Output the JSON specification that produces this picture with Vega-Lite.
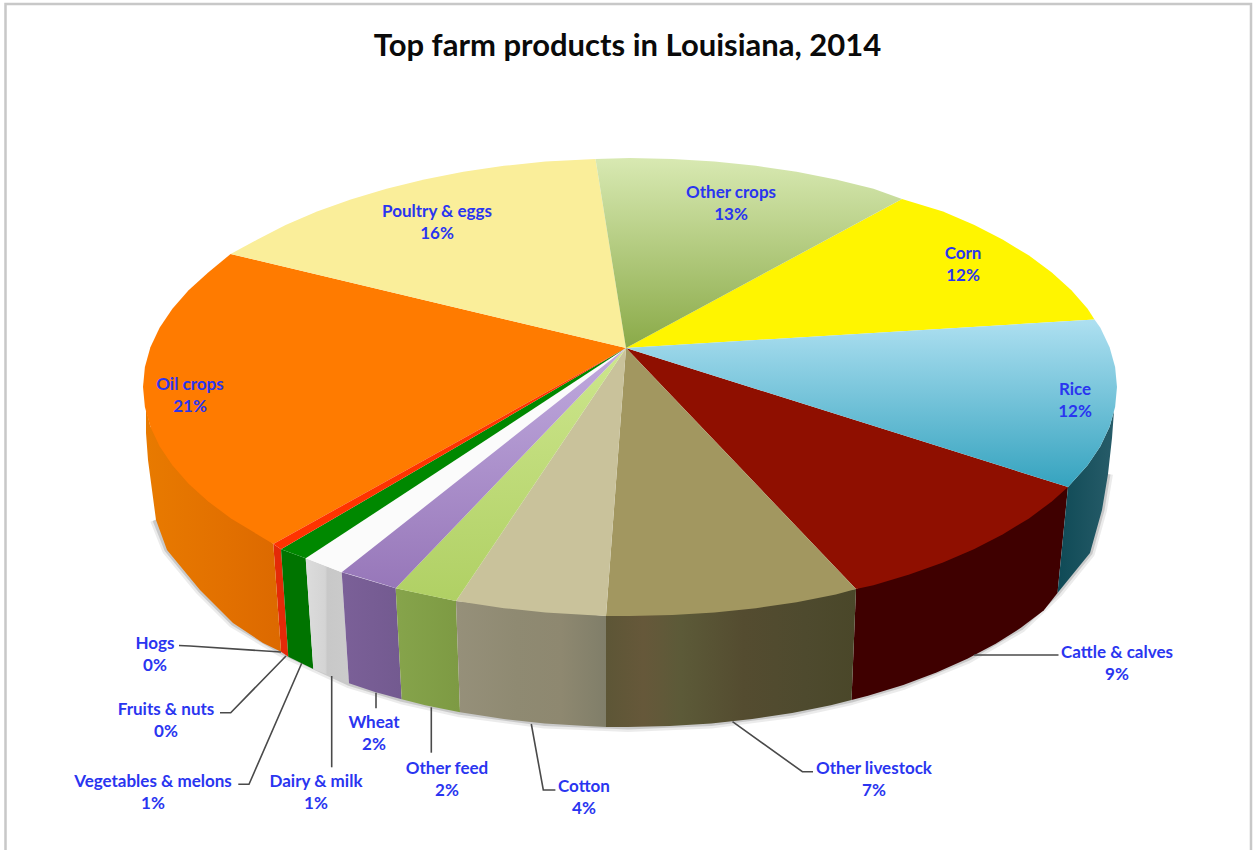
{
  "$schema": "https://vega.github.io/schema/vega-lite/v6.json",
  "description": "Top farm products in Louisiana, 2014: tilted pie drawn from outlines measured relative to the pie's apex",
  "autosize": "none",
  "padding": 0,
  "width": 1253,
  "height": 850,
  "background": "#ffffff",
  "view": {"stroke": null},
  "title": {
    "text": "Top farm products in Louisiana, 2014",
    "anchor": "middle", "frame": "group", "offset": 0, "dy": 64, "dx": 1,
    "font": "Lato", "fontSize": 31, "fontWeight": "bold", "color": "#0a0a0a"
  },
  "datasets": {
    "frame": [
      {"step": 1, "x": -620.5, "y": -502},
      {"step": 2, "x": -620.5, "y": 344},
      {"step": 3, "x": 625, "y": 344},
      {"step": 4, "x": 625, "y": -502}
    ],
    "base": [
      {"step": 2, "x": 482, "y": -126},
      {"step": 3, "x": 476, "y": -162},
      {"step": 4, "x": 464, "y": -205},
      {"step": 5, "x": 431.5, "y": -245},
      {"step": 6, "x": 395.2, "y": -279.6},
      {"step": 7, "x": 341.4, "y": -310.8},
      {"step": 8, "x": 277.3, "y": -336.9},
      {"step": 9, "x": 225.5, "y": -352},
      {"step": 10, "x": 166.2, "y": -365},
      {"step": 11, "x": 85.3, "y": -375.5},
      {"step": 12, "x": 2, "y": -379},
      {"step": 13, "x": -81.3, "y": -375.5},
      {"step": 14, "x": -166, "y": -364.3},
      {"step": 15, "x": -224.3, "y": -351.3},
      {"step": 16, "x": -277, "y": -335.3},
      {"step": 17, "x": -345, "y": -303.7},
      {"step": 18, "x": -393, "y": -275},
      {"step": 19, "x": -426, "y": -242},
      {"step": 20, "x": -459, "y": -202},
      {"step": 21, "x": -471, "y": -172}
    ],
    "sides": [
      {"slice": "Rice", "step": 1, "x": 442, "y": -139},
      {"slice": "Rice", "step": 2, "x": 461.6, "y": -117.3},
      {"slice": "Rice", "step": 3, "x": 474.4, "y": -98.3},
      {"slice": "Rice", "step": 4, "x": 483.6, "y": -78.8},
      {"slice": "Rice", "step": 5, "x": 488, "y": -63},
      {"slice": "Rice", "step": 6, "x": 486, "y": -90},
      {"slice": "Rice", "step": 7, "x": 482, "y": -126},
      {"slice": "Rice", "step": 8, "x": 476, "y": -162},
      {"slice": "Rice", "step": 9, "x": 464, "y": -205},
      {"slice": "Rice", "step": 10, "x": 431.5, "y": -245},

      {"slice": "Cattle & calves", "step": 1, "x": 442, "y": -139},
      {"slice": "Cattle & calves", "step": 2, "x": 230, "y": -241},
      {"slice": "Cattle & calves", "step": 3, "x": 225.5, "y": -352},
      {"slice": "Cattle & calves", "step": 4, "x": 242, "y": -347.8},
      {"slice": "Cattle & calves", "step": 5, "x": 277.3, "y": -336.9},
      {"slice": "Cattle & calves", "step": 6, "x": 310.5, "y": -324.5},
      {"slice": "Cattle & calves", "step": 7, "x": 341.4, "y": -310.8},
      {"slice": "Cattle & calves", "step": 8, "x": 369.7, "y": -295.8},
      {"slice": "Cattle & calves", "step": 9, "x": 395.2, "y": -279.6},
      {"slice": "Cattle & calves", "step": 10, "x": 417.7, "y": -262.5},
      {"slice": "Cattle & calves", "step": 11, "x": 431.5, "y": -245},

      {"slice": "Other livestock", "step": 1, "x": 230, "y": -241},
      {"slice": "Other livestock", "step": 2, "x": -20, "y": -268},
      {"slice": "Other livestock", "step": 3, "x": -20, "y": -379},
      {"slice": "Other livestock", "step": 4, "x": 2, "y": -379},
      {"slice": "Other livestock", "step": 5, "x": 43.9, "y": -378.1},
      {"slice": "Other livestock", "step": 6, "x": 85.3, "y": -375.5},
      {"slice": "Other livestock", "step": 7, "x": 126.2, "y": -371},
      {"slice": "Other livestock", "step": 8, "x": 166.2, "y": -365},
      {"slice": "Other livestock", "step": 9, "x": 204.8, "y": -357.2},
      {"slice": "Other livestock", "step": 10, "x": 225.5, "y": -352},

      {"slice": "Cotton", "step": 1, "x": -20, "y": -268},
      {"slice": "Cotton", "step": 2, "x": -170, "y": -253},
      {"slice": "Cotton", "step": 3, "x": -166, "y": -364.3},
      {"slice": "Cotton", "step": 4, "x": -122.2, "y": -371},
      {"slice": "Cotton", "step": 5, "x": -81.3, "y": -375.5},
      {"slice": "Cotton", "step": 6, "x": -39.9, "y": -378.1},
      {"slice": "Cotton", "step": 7, "x": -20, "y": -379},

      {"slice": "Other feed", "step": 1, "x": -170, "y": -253},
      {"slice": "Other feed", "step": 2, "x": -230.3, "y": -240.3},
      {"slice": "Other feed", "step": 3, "x": -224.3, "y": -351.3},
      {"slice": "Other feed", "step": 4, "x": -200.8, "y": -357.2},
      {"slice": "Other feed", "step": 5, "x": -166, "y": -364.3},

      {"slice": "Wheat", "step": 1, "x": -230.3, "y": -240.3},
      {"slice": "Wheat", "step": 2, "x": -284.3, "y": -224.3},
      {"slice": "Wheat", "step": 3, "x": -277, "y": -335.3},
      {"slice": "Wheat", "step": 4, "x": -251, "y": -344},
      {"slice": "Wheat", "step": 5, "x": -224.3, "y": -351.3},

      {"slice": "Dairy & milk", "step": 1, "x": -284.3, "y": -224.3},
      {"slice": "Dairy & milk", "step": 2, "x": -320.3, "y": -210.3},
      {"slice": "Dairy & milk", "step": 3, "x": -312.7, "y": -321},
      {"slice": "Dairy & milk", "step": 4, "x": -277, "y": -335.3},

      {"slice": "Vegetables & melons", "step": 1, "x": -320.3, "y": -210.3},
      {"slice": "Vegetables & melons", "step": 2, "x": -345, "y": -201.3},
      {"slice": "Vegetables & melons", "step": 3, "x": -337.7, "y": -308.7},
      {"slice": "Vegetables & melons", "step": 4, "x": -312.7, "y": -321},

      {"slice": "Hogs", "step": 1, "x": -345, "y": -201.3},
      {"slice": "Hogs", "step": 2, "x": -352.7, "y": -196},
      {"slice": "Hogs", "step": 3, "x": -345, "y": -303.7},
      {"slice": "Hogs", "step": 4, "x": -337.7, "y": -308.7},

      {"slice": "Oil crops", "step": 1, "x": -352.7, "y": -196},
      {"slice": "Oil crops", "step": 2, "x": -475.6, "y": -78.8},
      {"slice": "Oil crops", "step": 3, "x": -480, "y": -60},
      {"slice": "Oil crops", "step": 4, "x": -480, "y": -85},
      {"slice": "Oil crops", "step": 5, "x": -478, "y": -112},
      {"slice": "Oil crops", "step": 6, "x": -470, "y": -172},
      {"slice": "Oil crops", "step": 7, "x": -459, "y": -202},
      {"slice": "Oil crops", "step": 8, "x": -426, "y": -242},
      {"slice": "Oil crops", "step": 9, "x": -393, "y": -275},
      {"slice": "Oil crops", "step": 10, "x": -363, "y": -295},
      {"slice": "Oil crops", "step": 11, "x": -345, "y": -303.7}
    ],
    "faces": [
      {"slice": "Rice", "step": 1, "x": 0, "y": 0},
      {"slice": "Rice", "step": 2, "x": 468.5, "y": 28.5},
      {"slice": "Rice", "step": 3, "x": 474.4, "y": 20.3},
      {"slice": "Rice", "step": 4, "x": 483.6, "y": 0.8},
      {"slice": "Rice", "step": 5, "x": 489.1, "y": -19},
      {"slice": "Rice", "step": 6, "x": 491, "y": -39},
      {"slice": "Rice", "step": 7, "x": 489.1, "y": -59},
      {"slice": "Rice", "step": 8, "x": 483.6, "y": -78.8},
      {"slice": "Rice", "step": 9, "x": 474.4, "y": -98.3},
      {"slice": "Rice", "step": 10, "x": 461.6, "y": -117.3},
      {"slice": "Rice", "step": 11, "x": 442, "y": -139},

      {"slice": "Cattle & calves", "step": 1, "x": 0, "y": 0},
      {"slice": "Cattle & calves", "step": 2, "x": 442, "y": -139},
      {"slice": "Cattle & calves", "step": 3, "x": 425.8, "y": -153.5},
      {"slice": "Cattle & calves", "step": 4, "x": 403, "y": -170.4},
      {"slice": "Cattle & calves", "step": 5, "x": 377, "y": -186.2},
      {"slice": "Cattle & calves", "step": 6, "x": 348.4, "y": -200.9},
      {"slice": "Cattle & calves", "step": 7, "x": 317, "y": -214.4},
      {"slice": "Cattle & calves", "step": 8, "x": 283.3, "y": -226.6},
      {"slice": "Cattle & calves", "step": 9, "x": 247.5, "y": -237.3},
      {"slice": "Cattle & calves", "step": 10, "x": 230, "y": -241},

      {"slice": "Other livestock", "step": 1, "x": 0, "y": 0},
      {"slice": "Other livestock", "step": 2, "x": 230, "y": -241},
      {"slice": "Other livestock", "step": 3, "x": 209.8, "y": -246.5},
      {"slice": "Other livestock", "step": 4, "x": 170.6, "y": -254.2},
      {"slice": "Other livestock", "step": 5, "x": 130, "y": -260.2},
      {"slice": "Other livestock", "step": 6, "x": 88.5, "y": -264.5},
      {"slice": "Other livestock", "step": 7, "x": 46.5, "y": -267.1},
      {"slice": "Other livestock", "step": 8, "x": 4, "y": -268},
      {"slice": "Other livestock", "step": 9, "x": -20, "y": -268},

      {"slice": "Cotton", "step": 1, "x": 0, "y": 0},
      {"slice": "Cotton", "step": 2, "x": -20, "y": -268},
      {"slice": "Cotton", "step": 3, "x": -38.5, "y": -267.1},
      {"slice": "Cotton", "step": 4, "x": -80.5, "y": -264.5},
      {"slice": "Cotton", "step": 5, "x": -122, "y": -260.2},
      {"slice": "Cotton", "step": 6, "x": -170, "y": -253},

      {"slice": "Other feed", "step": 1, "x": 0, "y": 0},
      {"slice": "Other feed", "step": 2, "x": -170, "y": -253},
      {"slice": "Other feed", "step": 3, "x": -201.8, "y": -246.5},
      {"slice": "Other feed", "step": 4, "x": -230.3, "y": -240.3},

      {"slice": "Wheat", "step": 1, "x": 0, "y": 0},
      {"slice": "Wheat", "step": 2, "x": -230.3, "y": -240.3},
      {"slice": "Wheat", "step": 3, "x": -239.5, "y": -237.3},
      {"slice": "Wheat", "step": 4, "x": -275.3, "y": -226.6},
      {"slice": "Wheat", "step": 5, "x": -284.3, "y": -224.3},

      {"slice": "Dairy & milk", "step": 1, "x": 0, "y": 0},
      {"slice": "Dairy & milk", "step": 2, "x": -284.3, "y": -224.3},
      {"slice": "Dairy & milk", "step": 3, "x": -309, "y": -214.4},
      {"slice": "Dairy & milk", "step": 4, "x": -320.3, "y": -210.3},

      {"slice": "Vegetables & melons", "step": 1, "x": 0, "y": 0},
      {"slice": "Vegetables & melons", "step": 2, "x": -320.3, "y": -210.3},
      {"slice": "Vegetables & melons", "step": 3, "x": -345, "y": -201.3},

      {"slice": "Hogs", "step": 1, "x": 0, "y": 0},
      {"slice": "Hogs", "step": 2, "x": -345, "y": -201.3},
      {"slice": "Hogs", "step": 3, "x": -352.7, "y": -196},

      {"slice": "Oil crops", "step": 1, "x": 0, "y": 0},
      {"slice": "Oil crops", "step": 2, "x": -352.7, "y": -196},
      {"slice": "Oil crops", "step": 3, "x": -369, "y": -186.2},
      {"slice": "Oil crops", "step": 4, "x": -395, "y": -170.4},
      {"slice": "Oil crops", "step": 5, "x": -417.8, "y": -153.5},
      {"slice": "Oil crops", "step": 6, "x": -437.4, "y": -135.8},
      {"slice": "Oil crops", "step": 7, "x": -453.6, "y": -117.3},
      {"slice": "Oil crops", "step": 8, "x": -466.4, "y": -98.3},
      {"slice": "Oil crops", "step": 9, "x": -475.6, "y": -78.8},
      {"slice": "Oil crops", "step": 10, "x": -481.1, "y": -59},
      {"slice": "Oil crops", "step": 11, "x": -483, "y": -39},
      {"slice": "Oil crops", "step": 12, "x": -481.1, "y": -19},
      {"slice": "Oil crops", "step": 13, "x": -475.6, "y": 0.8},
      {"slice": "Oil crops", "step": 14, "x": -466.4, "y": 20.3},
      {"slice": "Oil crops", "step": 15, "x": -453.6, "y": 39.3},
      {"slice": "Oil crops", "step": 16, "x": -437.4, "y": 57.8},
      {"slice": "Oil crops", "step": 17, "x": -417.8, "y": 75.5},
      {"slice": "Oil crops", "step": 18, "x": -395.4, "y": 94},

      {"slice": "Poultry & eggs", "step": 1, "x": 0, "y": 0},
      {"slice": "Poultry & eggs", "step": 2, "x": -395.4, "y": 94},
      {"slice": "Poultry & eggs", "step": 3, "x": -369, "y": 108.2},
      {"slice": "Poultry & eggs", "step": 4, "x": -340.4, "y": 122.9},
      {"slice": "Poultry & eggs", "step": 5, "x": -309, "y": 136.4},
      {"slice": "Poultry & eggs", "step": 6, "x": -275.3, "y": 148.6},
      {"slice": "Poultry & eggs", "step": 7, "x": -239.5, "y": 159.3},
      {"slice": "Poultry & eggs", "step": 8, "x": -201.8, "y": 168.5},
      {"slice": "Poultry & eggs", "step": 9, "x": -162.6, "y": 176.2},
      {"slice": "Poultry & eggs", "step": 10, "x": -122, "y": 182.2},
      {"slice": "Poultry & eggs", "step": 11, "x": -80.5, "y": 186.5},
      {"slice": "Poultry & eggs", "step": 12, "x": -30.5, "y": 189},

      {"slice": "Other crops", "step": 1, "x": 0, "y": 0},
      {"slice": "Other crops", "step": 2, "x": -30.5, "y": 189},
      {"slice": "Other crops", "step": 3, "x": 4, "y": 190},
      {"slice": "Other crops", "step": 4, "x": 46.5, "y": 189.1},
      {"slice": "Other crops", "step": 5, "x": 88.5, "y": 186.5},
      {"slice": "Other crops", "step": 6, "x": 130, "y": 182.2},
      {"slice": "Other crops", "step": 7, "x": 170.6, "y": 176.2},
      {"slice": "Other crops", "step": 8, "x": 209.8, "y": 168.5},
      {"slice": "Other crops", "step": 9, "x": 247.5, "y": 159.3},
      {"slice": "Other crops", "step": 10, "x": 276, "y": 149},

      {"slice": "Corn", "step": 1, "x": 0, "y": 0},
      {"slice": "Corn", "step": 2, "x": 276, "y": 149},
      {"slice": "Corn", "step": 3, "x": 317, "y": 136.4},
      {"slice": "Corn", "step": 4, "x": 348.4, "y": 122.9},
      {"slice": "Corn", "step": 5, "x": 377, "y": 108.2},
      {"slice": "Corn", "step": 6, "x": 403, "y": 92.4},
      {"slice": "Corn", "step": 7, "x": 425.8, "y": 75.5},
      {"slice": "Corn", "step": 8, "x": 445.4, "y": 57.8},
      {"slice": "Corn", "step": 9, "x": 461.6, "y": 39.3},
      {"slice": "Corn", "step": 10, "x": 468.5, "y": 28.5}
    ],
    "leaders": [
      {"slice": "Hogs", "step": 1, "x": -447, "y": -297.5},
      {"slice": "Hogs", "step": 2, "x": -436, "y": -298},
      {"slice": "Hogs", "step": 3, "x": -345, "y": -304},
      {"slice": "Fruits & nuts", "step": 1, "x": -406, "y": -364.7},
      {"slice": "Fruits & nuts", "step": 2, "x": -395.3, "y": -364.7},
      {"slice": "Fruits & nuts", "step": 3, "x": -340, "y": -308},
      {"slice": "Vegetables & melons", "step": 1, "x": -387.7, "y": -436.3},
      {"slice": "Vegetables & melons", "step": 2, "x": -377, "y": -436.3},
      {"slice": "Vegetables & melons", "step": 3, "x": -324.3, "y": -315.3},
      {"slice": "Dairy & milk", "step": 1, "x": -294.3, "y": -419.3},
      {"slice": "Dairy & milk", "step": 2, "x": -294.3, "y": -328},
      {"slice": "Wheat", "step": 1, "x": -250, "y": -360.3},
      {"slice": "Wheat", "step": 2, "x": -250, "y": -344.7},
      {"slice": "Other feed", "step": 1, "x": -194.7, "y": -404.7},
      {"slice": "Other feed", "step": 2, "x": -194.7, "y": -359.3},
      {"slice": "Cotton", "step": 1, "x": -94.7, "y": -376},
      {"slice": "Cotton", "step": 2, "x": -82.7, "y": -442},
      {"slice": "Cotton", "step": 3, "x": -70.6, "y": -442},
      {"slice": "Other livestock", "step": 1, "x": 106.5, "y": -373.7},
      {"slice": "Other livestock", "step": 2, "x": 176.4, "y": -423.7},
      {"slice": "Other livestock", "step": 3, "x": 187, "y": -423.7},
      {"slice": "Cattle & calves", "step": 1, "x": 348, "y": -307},
      {"slice": "Cattle & calves", "step": 2, "x": 432.5, "y": -307}
    ],
    "labels": [
      {"slice": "Oil crops", "share": 21, "x": -436, "y": -37},
      {"slice": "Poultry & eggs", "share": 16, "x": -189, "y": 136},
      {"slice": "Other crops", "share": 13, "x": 105, "y": 155},
      {"slice": "Corn", "share": 12, "x": 337, "y": 94},
      {"slice": "Rice", "share": 12, "x": 449, "y": -42},
      {"slice": "Cattle & calves", "share": 9, "x": 491, "y": -305},
      {"slice": "Other livestock", "share": 7, "x": 248, "y": -421},
      {"slice": "Cotton", "share": 4, "x": -42, "y": -439},
      {"slice": "Other feed", "share": 2, "x": -179, "y": -421},
      {"slice": "Wheat", "share": 2, "x": -252, "y": -375},
      {"slice": "Dairy & milk", "share": 1, "x": -310, "y": -434},
      {"slice": "Vegetables & melons", "share": 1, "x": -473, "y": -434},
      {"slice": "Fruits & nuts", "share": 0, "x": -460, "y": -362},
      {"slice": "Hogs", "share": 0, "x": -471, "y": -296}
    ]
  },
  "encoding": {
    "x": {"field": "x", "type": "quantitative", "axis": null, "scale": {"domain": [-626, 627], "nice": false, "zero": false}},
    "y": {"field": "y", "type": "quantitative", "axis": null, "scale": {"domain": [-502, 348], "nice": false, "zero": false}},
    "order": {"field": "step", "type": "quantitative"}
  },
  "layer": [
    {
      "data": {"name": "frame"},
      "mark": {"type": "line", "stroke": "#c8c8c8", "strokeWidth": 2.5}
    },
    {
      "data": {"name": "base"},
      "mark": {"type": "line", "stroke": "#000000", "strokeOpacity": 0.08, "strokeWidth": 10, "strokeJoin": "round"}
    },
    {
      "data": {"name": "base"},
      "mark": {"type": "line", "stroke": "#000000", "strokeOpacity": 0.14, "strokeWidth": 5, "strokeJoin": "round"}
    },
    {
      "data": {"name": "sides"},
      "transform": [{"filter": {"field": "slice", "equal": "Cattle & calves"}}],
      "mark": {"type": "line", "strokeWidth": 0, "fill": "#3f0000"}
    },
    {
      "data": {"name": "sides"},
      "transform": [{"filter": {"field": "slice", "equal": "Hogs"}}],
      "mark": {"type": "line", "strokeWidth": 0, "fill": "#e42a08"}
    },
    {
      "data": {"name": "sides"},
      "transform": [{"filter": {"field": "slice", "equal": "Vegetables & melons"}}],
      "mark": {"type": "line", "strokeWidth": 0, "fill": "#007400"}
    },
    {
      "data": {"name": "sides"},
      "transform": [{"filter": {"field": "slice", "equal": "Oil crops"}}],
      "mark": {"type": "line", "strokeWidth": 0, "fill": {"gradient": "linear", "x1": 0, "y1": 0, "x2": 1, "y2": 0, "stops": [{"offset": 0, "color": "#e87a00"}, {"offset": 0.6, "color": "#e27000"}, {"offset": 1, "color": "#dc6900"}]}}
    },
    {
      "data": {"name": "sides"},
      "transform": [{"filter": {"field": "slice", "equal": "Dairy & milk"}}],
      "mark": {"type": "line", "strokeWidth": 0, "fill": {"gradient": "linear", "x1": 0, "y1": 0, "x2": 1, "y2": 0, "stops": [{"offset": 0, "color": "#dcdcdc"}, {"offset": 0.45, "color": "#d4d4d4"}, {"offset": 0.5, "color": "#c8c8c8"}, {"offset": 1, "color": "#cbcbcb"}]}}
    },
    {
      "data": {"name": "sides"},
      "transform": [{"filter": {"field": "slice", "equal": "Wheat"}}],
      "mark": {"type": "line", "strokeWidth": 0, "fill": {"gradient": "linear", "x1": 0, "y1": 0, "x2": 1, "y2": 0, "stops": [{"offset": 0, "color": "#7b6098"}, {"offset": 1, "color": "#735a90"}]}}
    },
    {
      "data": {"name": "sides"},
      "transform": [{"filter": {"field": "slice", "equal": "Other feed"}}],
      "mark": {"type": "line", "strokeWidth": 0, "fill": {"gradient": "linear", "x1": 0, "y1": 0, "x2": 1, "y2": 0, "stops": [{"offset": 0, "color": "#86a44b"}, {"offset": 1, "color": "#7d9a43"}]}}
    },
    {
      "data": {"name": "sides"},
      "transform": [{"filter": {"field": "slice", "equal": "Cotton"}}],
      "mark": {"type": "line", "strokeWidth": 0, "fill": {"gradient": "linear", "x1": 0, "y1": 0, "x2": 1, "y2": 0, "stops": [{"offset": 0, "color": "#96907a"}, {"offset": 0.4, "color": "#8f8a72"}, {"offset": 0.7, "color": "#8e8870"}, {"offset": 1, "color": "#807e69"}]}}
    },
    {
      "data": {"name": "sides"},
      "transform": [{"filter": {"field": "slice", "equal": "Other livestock"}}],
      "mark": {"type": "line", "strokeWidth": 0, "fill": {"gradient": "linear", "x1": 0, "y1": 0, "x2": 1, "y2": 0, "stops": [{"offset": 0, "color": "#5d5636"}, {"offset": 0.15, "color": "#66583a"}, {"offset": 0.3, "color": "#5c5a38"}, {"offset": 0.55, "color": "#544c30"}, {"offset": 0.8, "color": "#4e4a2e"}, {"offset": 1, "color": "#4a4729"}]}}
    },
    {
      "data": {"name": "sides"},
      "transform": [{"filter": {"field": "slice", "equal": "Rice"}}],
      "mark": {"type": "line", "strokeWidth": 0, "fill": {"gradient": "linear", "x1": 0, "y1": 0, "x2": 1, "y2": 0, "stops": [{"offset": 0, "color": "#0f4a56"}, {"offset": 1, "color": "#275c69"}]}}
    },
    {
      "data": {"name": "faces"},
      "transform": [{"filter": {"field": "slice", "equal": "Oil crops"}}],
      "mark": {"type": "line", "strokeWidth": 0, "fill": "#ff7b00"}
    },
    {
      "data": {"name": "faces"},
      "transform": [{"filter": {"field": "slice", "equal": "Poultry & eggs"}}],
      "mark": {"type": "line", "strokeWidth": 0, "fill": "#faee9a"}
    },
    {
      "data": {"name": "faces"},
      "transform": [{"filter": {"field": "slice", "equal": "Corn"}}],
      "mark": {"type": "line", "strokeWidth": 0, "fill": "#fff500"}
    },
    {
      "data": {"name": "faces"},
      "transform": [{"filter": {"field": "slice", "equal": "Cattle & calves"}}],
      "mark": {"type": "line", "strokeWidth": 0, "fill": "#8f0f00"}
    },
    {
      "data": {"name": "faces"},
      "transform": [{"filter": {"field": "slice", "equal": "Other livestock"}}],
      "mark": {"type": "line", "strokeWidth": 0, "fill": "#a29760"}
    },
    {
      "data": {"name": "faces"},
      "transform": [{"filter": {"field": "slice", "equal": "Cotton"}}],
      "mark": {"type": "line", "strokeWidth": 0, "fill": "#c9c29b"}
    },
    {
      "data": {"name": "faces"},
      "transform": [{"filter": {"field": "slice", "equal": "Dairy & milk"}}],
      "mark": {"type": "line", "strokeWidth": 0, "fill": "#fbfbfb"}
    },
    {
      "data": {"name": "faces"},
      "transform": [{"filter": {"field": "slice", "equal": "Vegetables & melons"}}],
      "mark": {"type": "line", "strokeWidth": 0, "fill": "#008800"}
    },
    {
      "data": {"name": "faces"},
      "transform": [{"filter": {"field": "slice", "equal": "Hogs"}}],
      "mark": {"type": "line", "strokeWidth": 0, "fill": "#ff3300"}
    },
    {
      "data": {"name": "faces"},
      "transform": [{"filter": {"field": "slice", "equal": "Other crops"}}],
      "mark": {"type": "line", "strokeWidth": 0, "fill": {"gradient": "linear", "x1": 0, "y1": 0, "x2": 0, "y2": 1, "stops": [{"offset": 0, "color": "#d8e9b2"}, {"offset": 1, "color": "#8aaa48"}]}}
    },
    {
      "data": {"name": "faces"},
      "transform": [{"filter": {"field": "slice", "equal": "Rice"}}],
      "mark": {"type": "line", "strokeWidth": 0, "fill": {"gradient": "linear", "x1": 0, "y1": 0, "x2": 0, "y2": 1, "stops": [{"offset": 0, "color": "#aee0f1"}, {"offset": 1, "color": "#35a3bf"}]}}
    },
    {
      "data": {"name": "faces"},
      "transform": [{"filter": {"field": "slice", "equal": "Other feed"}}],
      "mark": {"type": "line", "strokeWidth": 0, "fill": {"gradient": "linear", "x1": 0, "y1": 0, "x2": 0, "y2": 1, "stops": [{"offset": 0, "color": "#cde68d"}, {"offset": 1, "color": "#b0d064"}]}}
    },
    {
      "data": {"name": "faces"},
      "transform": [{"filter": {"field": "slice", "equal": "Wheat"}}],
      "mark": {"type": "line", "strokeWidth": 0, "fill": {"gradient": "linear", "x1": 0, "y1": 0, "x2": 0, "y2": 1, "stops": [{"offset": 0, "color": "#c0aade"}, {"offset": 1, "color": "#9777b9"}]}}
    },
    {
      "data": {"name": "leaders"},
      "mark": {"type": "line", "stroke": "#4a4a4a", "strokeWidth": 1.6},
      "encoding": {"detail": {"field": "slice"}}
    },
    {
      "data": {"name": "labels"},
      "transform": [{"calculate": "datum.slice + '\\n' + datum.share + '%'", "as": "caption"}],
      "mark": {"type": "text", "font": "Lato", "fontWeight": "bold", "fontSize": 17, "color": "#2a35f0", "align": "center", "baseline": "middle", "lineBreak": "\n", "lineHeight": 22},
      "encoding": {"text": {"field": "caption"}, "order": null}
    }
  ]
}
